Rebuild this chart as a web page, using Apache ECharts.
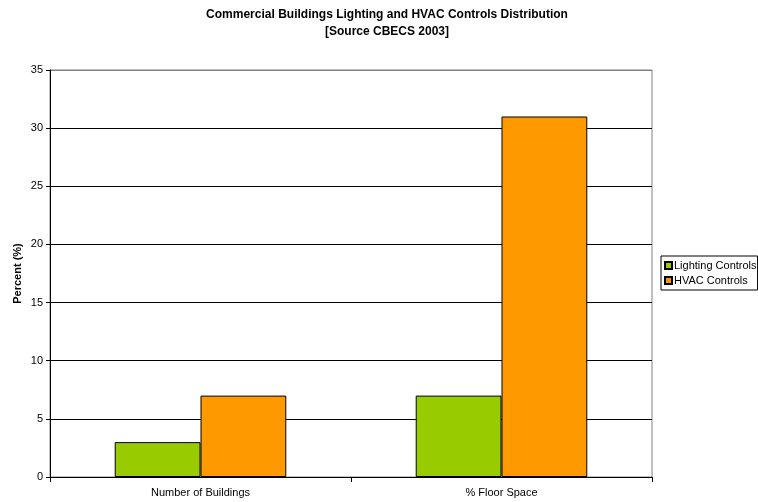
<!DOCTYPE html>
<html><head><meta charset="utf-8">
<script src="https://cdn.jsdelivr.net/npm/echarts@6/dist/echarts.min.js"></script>
<style>html,body{margin:0;padding:0;background:#fff}#c{width:758px;height:502px}</style>
</head><body><div id="c"></div>
<script>
const categories = ['Number of Buildings', '% Floor Space'];
const lightingControls = [3, 7];
const hvacControls = [7, 31];
const seriesNames = ['Lighting Controls', 'HVAC Controls'];
const yTicks = [0, 5, 10, 15, 20, 25, 30, 35];

const chart = echarts.init(document.getElementById('c'), null, {renderer: 'canvas'});
const F = 'Liberation Sans, Arial, sans-serif';
chart.setOption({
  animation: false,
  backgroundColor: '#fff',
  title: {
    text: 'Commercial Buildings Lighting and HVAC Controls Distribution\n[Source CBECS 2003]',
    left: 382, top: 1, textAlign: 'center',
    textStyle: {fontFamily: F, fontSize: 12, fontWeight: 'bold', color: '#000', lineHeight: 17}
  },
  legend: {
    left: 661, top: 256, orient: 'vertical',
    data: seriesNames,
    icon: 'rect', itemWidth: 7, itemHeight: 7, itemGap: 4,
    padding: [4, 1, 4, 3],
    borderColor: '#000', borderWidth: 1,
    textStyle: {fontFamily: F, fontSize: 11, color: '#000', padding: [0, 0, 0, -3]}
  },
  grid: {left: 50, right: 106, top: 70, bottom: 25, show: true, borderColor: '#808080', borderWidth: 1},
  xAxis: {
    type: 'category', data: categories,
    axisLine: {lineStyle: {color: '#000'}},
    axisTick: {show: true, length: 5, lineStyle: {color: '#000'}},
    axisLabel: {fontFamily: F, fontSize: 11, color: '#000', margin: 10}
  },
  yAxis: {
    type: 'value', min: yTicks[0], max: yTicks[yTicks.length - 1], interval: 5,
    name: 'Percent (%)', nameLocation: 'middle', nameGap: 27, nameMoveOverlap: false,
    nameTextStyle: {fontFamily: F, fontSize: 11, fontWeight: 'bold', color: '#000'},
    axisLine: {show: true, lineStyle: {color: '#000'}},
    axisTick: {show: true, length: 4, lineStyle: {color: '#000'}},
    axisLabel: {fontFamily: F, fontSize: 11, color: '#000', margin: 7},
    splitLine: {show: true, lineStyle: {color: ['#000','#000','#000','#000','#000','#000','#000','#808080'], width: 1}}
  },
  series: [
    {name: seriesNames[0], type: 'bar', data: lightingControls, barGap: '0%', barCategoryGap: '43%',
     itemStyle: {color: '#99CC00', borderColor: '#000', borderWidth: 1}},
    {name: seriesNames[1], type: 'bar', data: hvacControls, barGap: '0%', barCategoryGap: '43%',
     itemStyle: {color: '#FF9900', borderColor: '#000', borderWidth: 1}}
  ]
});
</script></body></html>
